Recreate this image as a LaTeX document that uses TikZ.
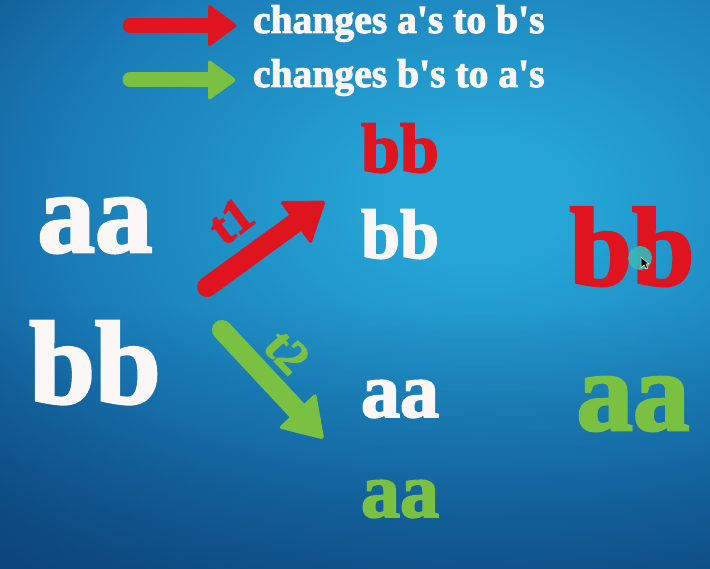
\documentclass[tikz,border=0pt]{standalone}
\usepackage{fontspec}
\usetikzlibrary{fadings}
\newfontfamily\heavy{Liberation Serif Bold}[FakeBold=2.5]
\definecolor{bgL}{RGB}{38,166,214}
\definecolor{bgM}{RGB}{25,122,182}
\definecolor{bgD}{RGB}{13,70,125}
\definecolor{myred}{RGB}{224,20,31}
\definecolor{mygreen}{RGB}{122,193,66}
\definecolor{mywhite}{RGB}{252,247,247}
\definecolor{cursorc}{RGB}{52,186,186}
\pgfdeclareradialshading{bgshade}{\pgfpoint{0bp}{0bp}}{color(0bp)=(bgL); color(3bp)=(bgL); color(15bp)=(bgM); color(25bp)=(bgD); color(50bp)=(bgD)}
\tikzfading[name=darkbottom, top color=transparent!100, bottom color=transparent!0]
% #1 colour, #2 tail, #3 angle, #4 length, #5 shaft width, #6 head length, #7 head width
\newcommand\fatarrow[7]{%
  \begin{scope}[shift={#2}, rotate=#3]
    \draw[#1, line width=#5pt, line cap=round] (0,0) -- ({#4-#6+2},0);
    \fill[#1, rounded corners=3.5pt]
      ({#4-#6},{-#7/2}) -- (#4,0) -- ({#4-#6},{#7/2}) -- cycle;
  \end{scope}}
\tikzset{
  lbl/.style={inner sep=0pt, outer sep=0pt, anchor=base},
  fs/.style={font=\heavy\fontsize{#1}{#1}\selectfont},
}
\begin{document}
\begin{tikzpicture}[x=1pt,y=1pt]
\useasboundingbox (0,0) rectangle (710,568);
\begin{scope}
  \clip (-1,-1) rectangle (711,569);
  \fill[bgD] (-1,-1) rectangle (711,569);
  \shade[shading=bgshade] (480,368) ellipse (720 and 480);
  \fill[bgD, path fading=darkbottom, fill opacity=0.55] (-1,-1) rectangle (711,260);
\end{scope}

% legend
\coordinate (lr) at (130,542.5);
\coordinate (lg) at (130,488);
\fatarrow{myred}{(lr)}{0}{108}{15}{30}{44}
\fatarrow{mygreen}{(lg)}{0}{107}{15}{29}{42}
\node[lbl, anchor=base west, fs=40, text=mywhite] (leg1) at (253,535) {\scalebox{0.99}[1]{changes a's to b's}};
\node[lbl, anchor=base west, fs=40, text=mywhite] (leg2) at (253,481) {\scalebox{0.99}[1]{changes b's to a's}};

% left column
\node[lbl, fs=115, text=mywhite] (aaL) at (95,316) {aa};
\node[lbl, fs=118, text=mywhite] (bbL) at (95,165) {bb};

% diagonal arrows
\coordinate (t1tail) at (207,281);
\coordinate (t2tail) at (222,238);
\fatarrow{myred}{(t1tail)}{36}{147}{20}{38}{54}
\fatarrow{mygreen}{(t2tail)}{-47}{150}{20}{40}{52}
\node[inner sep=0pt, fs=50, text=myred, rotate=37] (t1) at (231,347) {t1};
\node[inner sep=0pt, fs=48, text=mygreen, rotate=-47] (t2) at (287,216) {t2};

% middle column
\node[lbl, fs=70, text=myred] (bbM1) at (400,396) {bb};
\node[lbl, fs=70, text=mywhite] (bbM2) at (400,310) {bb};
\node[lbl, fs=78, text=mywhite] (aaM1) at (400,151) {aa};
\node[lbl, fs=78, text=mygreen] (aaM2) at (400,51) {aa};

% right column
\node[lbl, fs=112, text=myred] (bbR) at (632,283) {bb};
\node[lbl, fs=113, text=mygreen] (aaR) at (633,138) {aa};

% cursor
\fill[cursorc, opacity=0.9] (640,310) circle (12);
\begin{scope}[shift={(641,311)}]
  \filldraw[fill=black, draw=white, line width=0.5pt] (0,0) -- (0,-11) -- (3,-8) -- (5,-12) -- (7,-11) -- (5,-7) -- (8,-7) -- cycle;
\end{scope}
\end{tikzpicture}
\end{document}
